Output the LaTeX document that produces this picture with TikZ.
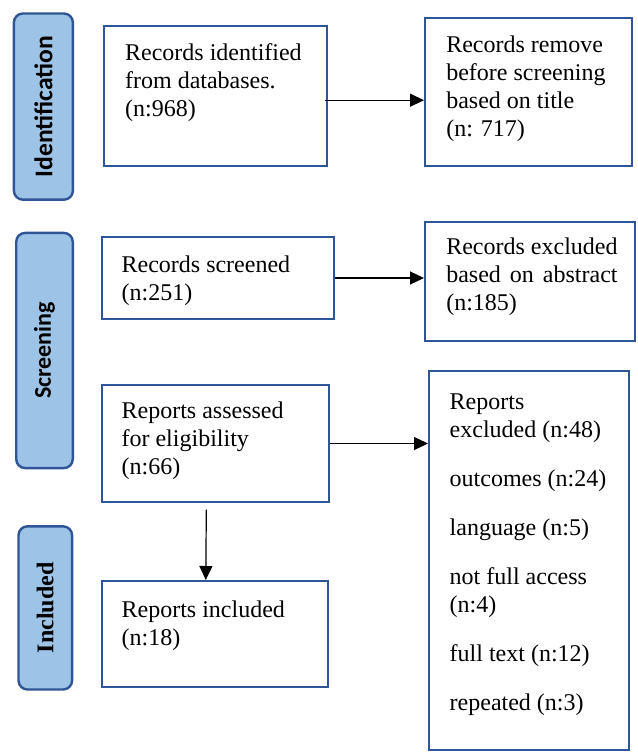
\documentclass[tikz,border=0pt]{standalone}
\usepackage{fontspec}
\usepackage{calc}
\setmainfont{Liberation Serif}
\newfontfamily\calibri{Carlito}
\usetikzlibrary{arrows.meta,fit}
\definecolor{boxblue}{RGB}{47,85,151}
\definecolor{stagefill}{RGB}{157,195,230}

\begin{document}
\begin{tikzpicture}[x=0.5pt,y=-0.5pt,stage/.style={draw=boxblue,fill=stagefill,line width=1.2pt,rounded corners=4.5pt,rotate=90,inner sep=0pt},box/.style={draw=boxblue,line width=1pt,inner sep=0pt},txt/.style={anchor=north west,align=left,inner sep=0pt,font=\fontsize{12}{14}\selectfont},flow/.style={-{Triangle[length=7pt,width=6.5pt]},line width=0.6pt}]
	\useasboundingbox (0,0) rectangle (637,753);
	% stages on the left
	\foreach \name/\cx/\cy/\len/\thick/\lbl in {identification/43.4/106.6/93.1/29.5/{\calibri\bfseries\fontsize{12.8}{14}\selectfont Identification},screening/44.5/350.5/117.6/28.3/{\calibri\bfseries\fontsize{12}{14}\selectfont Screening},included/45.3/607.9/81.6/26.8/{\bfseries\fontsize{12}{14}\selectfont Included}} \node[stage,minimum width=\len pt,minimum height=\thick pt] (\name) at (\cx,\cy) {\lbl};
	% boxes
	\node[box,fit={(104,26) (327,166)}] (recid) {};
	\node[box,fit={(425,18) (632,166)}] (recrm) {};
	\node[box,fit={(102,237) (334,319)}] (recsc) {};
	\node[box,fit={(425,222) (635,341)}] (recex) {};
	\node[box,fit={(102,385) (329,502)}] (repel) {};
	\node[box,fit={(429,371) (629,750)}] (repex) {};
	\node[box,fit={(102,581) (328,687)}] (repin) {};
	% texts
	\node[txt] (recidtext) at (124.7,43.5) {Records identified\\from databases.\\(n:968)};
	\node[txt] (recrmtext) at (445.9,35) {Records remove\\before screening\\based on title\\(n: 717)};
	\node[txt] (recsctext) at (121.2,255) {Records screened\\(n:251)};
	\node[txt] (recextext) at (445.9,237.8) {Records excluded\\\makebox[\widthof{Records excluded}][s]{based\hfill on\hfill abstract}\\(n:185)};
	\node[txt] (repeltext) at (121.2,401.6) {Reports assessed\\for eligibility\\(n:66)};
	\node[txt] (repextext) at (449.3,393.5) {Reports\\excluded (n:48)\\[10.5pt]outcomes (n:24)\\[10.5pt]language (n:5)\\[10.5pt]not full access\\(n:4)\\[10.5pt]full text (n:12)\\[10.5pt]repeated (n:3)};
	\node[txt] (repintext) at (121.2,600.6) {Reports included\\(n:18)};
	% arrows
	\draw[flow] ([xshift=-1.75pt,yshift=-2.1pt]recid.east) -- ([yshift=-2.1pt]recid.east -| recrm.west);
	\draw[flow] (recsc.east) -- (recsc.east -| recex.west);
	\draw[flow] (repel.east) -- (repel.east -| repex.west);
	\draw[flow] ([xshift=-4.6pt,yshift=-3.25pt]repel.south) -- ([xshift=-4.6pt]repin.north);
\end{tikzpicture}
\end{document}
